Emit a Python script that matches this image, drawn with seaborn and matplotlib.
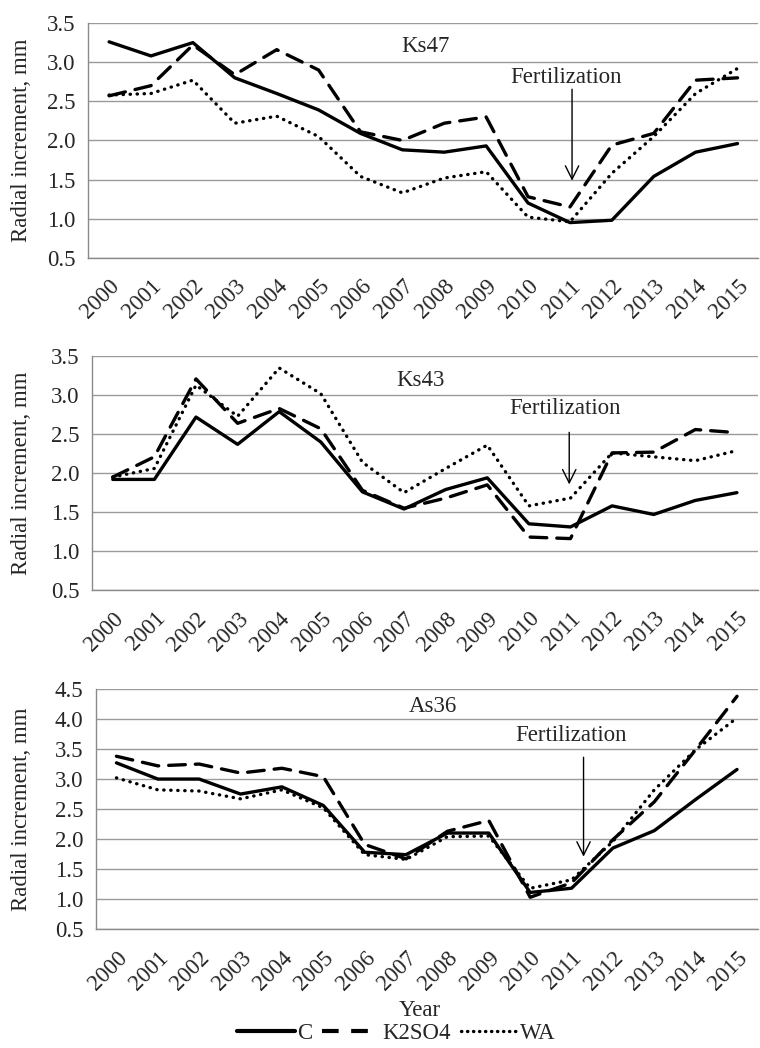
import numpy as np
import pandas as pd
import matplotlib
matplotlib.use("Agg")
import matplotlib.pyplot as plt
from matplotlib.lines import Line2D
import seaborn as sns

years = [str(y) for y in range(2000, 2016)]
series_names = ["C", "K2SO4", "WA"]

ks47_c = [3.26, 3.08, 3.25, 2.80, 2.60, 2.39, 2.09, 1.88, 1.85, 1.93, 1.20, 0.95, 0.98, 1.54, 1.85, 1.96]
ks47_k = [2.57, 2.70, 3.22, 2.84, 3.16, 2.90, 2.11, 2.00, 2.22, 2.30, 1.28, 1.15, 1.94, 2.09, 2.77, 2.80]
ks47_w = [2.58, 2.60, 2.77, 2.22, 2.31, 2.05, 1.54, 1.33, 1.52, 1.60, 1.02, 0.96, 1.58, 2.05, 2.60, 2.92]

ks43_c = [1.92, 1.92, 2.72, 2.37, 2.79, 2.40, 1.76, 1.54, 1.79, 1.94, 1.35, 1.31, 1.58, 1.47, 1.65, 1.75]
ks43_k = [1.95, 2.21, 3.21, 2.64, 2.83, 2.57, 1.78, 1.55, 1.68, 1.85, 1.18, 1.16, 2.26, 2.27, 2.56, 2.52]
ks43_w = [1.95, 2.06, 3.13, 2.73, 3.35, 3.02, 2.14, 1.75, 2.06, 2.36, 1.58, 1.68, 2.26, 2.21, 2.16, 2.29]

as36_c = [3.27, 3.00, 3.00, 2.75, 2.87, 2.56, 1.78, 1.74, 2.10, 2.10, 1.11, 1.18, 1.85, 2.14, 2.66, 3.16]
as36_k = [3.38, 3.22, 3.25, 3.10, 3.18, 3.04, 1.91, 1.67, 2.13, 2.31, 1.03, 1.27, 1.99, 2.62, 3.49, 4.38]
as36_w = [3.02, 2.82, 2.80, 2.67, 2.82, 2.52, 1.74, 1.66, 2.04, 2.05, 1.18, 1.32, 1.96, 2.82, 3.49, 4.02]

panel_titles = ["Ks47", "Ks43", "As36"]

sns.set_style("white")
plt.rcParams["font.family"] = ["Liberation Serif", "DejaVu Serif"]
FS = 16.5

fig = plt.figure(figsize=(7.6, 10.48), dpi=100)

positions = [
    [0.116, 0.754, 0.882, 0.224],
    [0.121, 0.437, 0.876, 0.223],
    [0.126, 0.1135, 0.871, 0.229],
]
ylabel_x = [-0.0836, -0.090, -0.0967]
ylims = [(0.5, 3.5), (0.5, 3.5), (0.5, 4.5)]
title_pos = [(7.55, 3.2), (7.4, 3.19), (7.65, 4.21)]
fert_text = [(10.9, 2.81), (10.87, 2.83), (11.0, 3.72)]
arrow_xy = [((11.05, 2.69), (11.05, 1.45)), ((10.97, 2.56), (10.97, 1.82)), ((11.29, 3.41), (11.29, 1.66))]

data_sets = [(ks47_c, ks47_k, ks47_w), (ks43_c, ks43_k, ks43_w), (as36_c, as36_k, as36_w)]

for i, (c, k, w) in enumerate(data_sets):
    ax = fig.add_axes(positions[i])
    df = pd.DataFrame({
        "idx": list(range(16)) * 3,
        "value": c + k + w,
        "series": ["C"] * 16 + ["K2SO4"] * 16 + ["WA"] * 16,
    })
    for s in series_names:
        sub = df[df["series"] == s]
        sns.lineplot(data=sub, x="idx", y="value", ax=ax, color="black",
                     linewidth=2.4, legend=False)
        line = ax.lines[-1]
        if s == "K2SO4":
            line.set_dashes((5, 3))
            line.set_dash_capstyle("round")
        elif s == "WA":
            line.set_dashes((0.1, 2.0))
            line.set_dash_capstyle("round")
    ax.set_xlim(-0.5, 15.5)
    lo, hi = ylims[i]
    ax.set_ylim(lo, hi)
    yt = np.arange(lo, hi + 0.01, 0.5)
    ax.set_yticks(yt)
    ax.set_yticklabels([f"{v:.1f}" for v in yt], fontsize=FS)
    ax.yaxis.grid(True, color="#9a9a9a", linewidth=1.0)
    ax.set_axisbelow(True)
    ax.set_xticks(range(16))
    ax.set_xticklabels(years, rotation=45, ha="right", rotation_mode="anchor", fontsize=FS)
    ax.tick_params(axis="x", which="major", length=0, pad=13)
    ax.set_xticks(np.arange(-0.5, 16, 1.0), minor=True)
    ax.tick_params(axis="x", which="minor", length=6, color="#8a8a8a", width=1.0)
    ax.tick_params(axis="y", length=6, color="#9a9a9a", width=1.0, pad=3)
    for sp in ["top", "right"]:
        ax.spines[sp].set_visible(False)
    for sp in ["left", "bottom"]:
        ax.spines[sp].set_color("#8a8a8a")
        ax.spines[sp].set_linewidth(1.0)
    ax.set_ylabel("Radial increment, mm", fontsize=FS)
    ax.yaxis.set_label_coords(ylabel_x[i], 0.5)
    if i == 2:
        ax.set_xlabel("Year", fontsize=FS)
        ax.xaxis.set_label_coords(0.489, -0.295)
    else:
        ax.set_xlabel("")
    ax.text(title_pos[i][0], title_pos[i][1], panel_titles[i], ha="center", va="center", fontsize=FS)
    ax.text(fert_text[i][0], fert_text[i][1], "Fertilization", ha="center", va="center", fontsize=FS)
    ax.annotate("", xy=arrow_xy[i][1], xytext=arrow_xy[i][0],
                arrowprops=dict(arrowstyle="->", color="black", lw=1.0, mutation_scale=24))

handles = [
    Line2D([], [], color="black", linewidth=3.0),
    Line2D([], [], color="black", linewidth=3.0, dashes=(4, 3), dash_capstyle="butt"),
    Line2D([], [], color="black", linewidth=2.4, dashes=(0.1, 1.7), dash_capstyle="round"),
]
fig.legend(handles, series_names, loc="center", bbox_to_anchor=(0.522, 0.0135), ncol=3,
           frameon=False, fontsize=FS, handlelength=2.5, handletextpad=0.1, columnspacing=0.45,
           borderpad=0.0)

fig.savefig("out.png", dpi=100)
